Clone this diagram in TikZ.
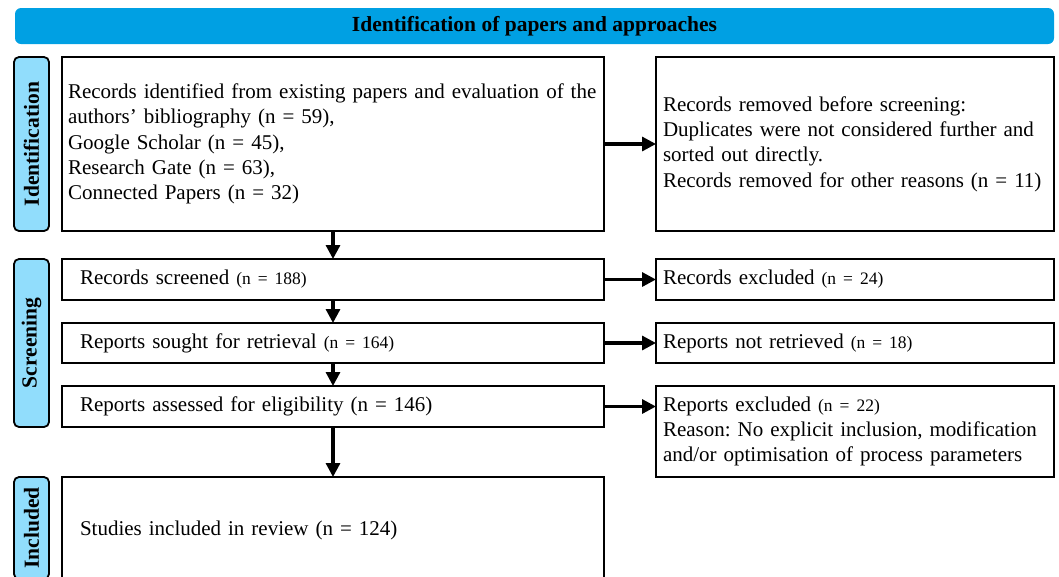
\documentclass[tikz,border=0pt]{standalone}
\usepackage{fontspec}
\setmainfont{Liberation Serif}
\usetikzlibrary{positioning, arrows.meta}

\definecolor{bannerblue}{RGB}{0,160,227}
\definecolor{phaseblue}{RGB}{145,221,252}
\newcommand{\nsmall}[1]{{\fontsize{17.5}{20}\selectfont #1}}
\frenchspacing

\begin{document}
\begin{tikzpicture}[x=1pt, y=-1pt]
    % settings for the whole flow chart
    \tikzset{
      >={Triangle[length=14pt, width=14pt]},
      font=\fontsize{21}{25.3}\selectfont,
      box/.style={draw, line width=2pt, outer sep=0pt, align=left, anchor=north west},
      mainbox/.style={box, minimum width=542pt, text width=506pt, inner xsep=18pt},
      sidebox/.style={box, minimum width=398pt, text width=384pt, inner xsep=7pt},
      phase/.style={draw, line width=1.8pt, rounded corners=5pt, fill=phaseblue,
        rotate=90, minimum height=35pt, inner sep=0pt,
        font=\fontsize{21.5}{24}\selectfont\bfseries},
      link/.style={->, line width=3.2pt},
    }

    \useasboundingbox (0,0) rectangle (1059,576);
    \clip (0,0) rectangle (1059,576);

    % banner
    \node[fill=bannerblue, rounded corners=6pt, minimum width=1039pt, minimum height=36pt,
      font=\fontsize{21.5}{24}\selectfont\bfseries] (banner) at (534.5,26)
      {Identification of papers and approaches};

    % main column
    \node[mainbox, inner xsep=6pt, text width=530pt, minimum height=174pt] (records) at (62,57)
      {Records identified from existing papers and evaluation of the\\
       authors' bibliography (n = 59),\\
       Google Scholar (n = 45),\\
       Research Gate (n = 63),\\
       Connected Papers (n = 32)};
    \node[mainbox, minimum height=41pt, below=28pt of records] (screened)
      {Records screened \nsmall{(n = 188)}};
    \node[mainbox, minimum height=40pt, below=23pt of screened] (sought)
      {Reports sought for retrieval \nsmall{(n = 164)}};
    \node[mainbox, minimum height=41pt, below=23pt of sought] (assessed)
      {Reports assessed for eligibility (n = 146)};
    \node[mainbox, minimum height=106pt, below=50pt of assessed] (included)
      {Studies included in review (n = 124)};

    % side column
    \node[sidebox, minimum height=174pt, right=52pt of records] (removed)
      {Records removed before screening:\\
       Duplicates were not considered further and\\
       sorted out directly.\\
       Records removed for other reasons (n = 11)};
    \node[sidebox, minimum height=41pt, right=52pt of screened] (excluded)
      {Records excluded \nsmall{(n = 24)}};
    \node[sidebox, minimum height=40pt, right=52pt of sought] (notretrieved)
      {Reports not retrieved \nsmall{(n = 18)}};
    \node[sidebox, minimum height=91pt, right=52pt of assessed.north east, anchor=north west] (reportsout)
      {Reports excluded \nsmall{(n = 22)}\\
       Reason: No explicit inclusion, modification\\
       and/or optimisation of process parameters};

    % phase labels
    \node[phase, minimum width=174pt] (identification) at (31.5,144) {Identification};
    \node[phase, minimum width=168pt] (screening) at (31.5,343) {Screening};
    \node[phase, minimum width=102pt] (includedphase) at (31.5,528) {Included};

    % arrows
    \draw[link] (records) edge (screened)
          (screened) edge (sought)
          (sought) edge (assessed)
          (assessed) edge (included)
          (records) edge (removed)
          (screened) edge (excluded)
          (sought) edge (notretrieved);
    \draw[link] (assessed.east) -- (assessed.east -| reportsout.west);

\end{tikzpicture}
\end{document}
